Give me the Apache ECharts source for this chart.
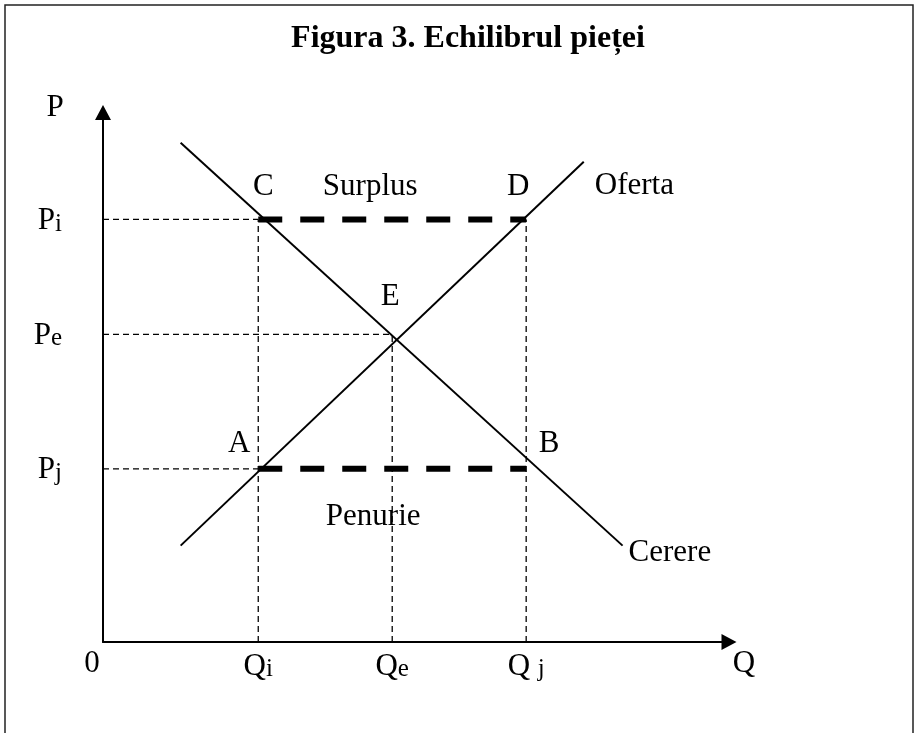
<!DOCTYPE html>
<html>
<head>
<meta charset="utf-8">
<script src="https://cdn.jsdelivr.net/npm/echarts@6/dist/echarts.min.js"></script>
<style>
html,body{margin:0;padding:0;background:#fff;}
#chart{width:918px;height:733px;}
</style>
</head>
<body>
<div id="chart"></div>
<script>
// ---- data (axis range 0..100) ----
const quantityNames = ['Qi', 'Qe', 'Qj'];
const quantityValues = [24.8, 46.2, 67.6];
const priceNames = ['Pj', 'Pe', 'Pi'];
const priceValues = [32.7, 58.1, 79.8];
const demandCurve = [[12.4, 94.3], [83.0, 18.2]];   // Cerere
const supplyCurve = [[12.4, 18.2], [76.8, 90.7]];   // Oferta
const curveNames = ['Cerere', 'Oferta'];
const pointNames = ['C', 'D', 'E', 'A', 'B'];
const regionNames = ['Surplus', 'Penurie'];
const titleText = 'Figura 3. Echilibrul pieței';
const axisNames = ['P', 'Q', '0'];

const Qi = quantityValues[0], Qe = quantityValues[1], Qj = quantityValues[2];
const Pj = priceValues[0], Pe = priceValues[1], Pi = priceValues[2];

const FONT = '"Liberation Serif","Times New Roman",serif';
const BLACK = '#000';

// points named in pointNames order
const pointCoords = [[Qi, Pi], [Qj, Pi], [Qe, Pe], [Qi, Pj], [Qj, Pj]];
const pointLabelOffset = { C: [5, -33], D: [-8, -33], E: [-2, -38], A: [-19, -25], B: [23, -25] };

// thin dashed guide segments
const guideSegments = [
  [[0, Pi], [Qi, Pi]],
  [[0, Pe], [Qe, Pe]],
  [[0, Pj], [Qi, Pj]],
  [[Qi, 0], [Qi, Pi]],
  [[Qe, 0], [Qe, Pe]],
  [[Qj, 0], [Qj, Pi]]
];
// bold dashed gaps (surplus, shortage)
const gapSegments = [
  [[Qi, Pi], [Qj, Pi]],
  [[Qi, Pj], [Qj, Pj]]
];
const regionLabelOffset = [[-22, -33], [-19, 48]];

const subRich = {
  m: { fontFamily: FONT, fontSize: 31, color: BLACK, lineHeight: 34, verticalAlign: 'bottom' },
  s: { fontFamily: FONT, fontSize: 25, color: BLACK, lineHeight: 34, verticalAlign: 'bottom' }
};
function subLabel(name) {
  const head = name.charAt(0), tail = name.slice(1);
  const sep = tail === 'j' && head === 'Q' ? ' ' : '';
  return '{m|' + head + sep + '}{s|' + tail + '}';
}

const labelStyle = { fontFamily: FONT, fontSize: 31, color: BLACK, opacity: 1 };

const series = [];
guideSegments.forEach(function (seg) {
  series.push({
    type: 'line', data: seg, symbol: 'none', silent: true, z: 2,
    lineStyle: { color: BLACK, width: 1.3, type: [6, 4] }
  });
});
gapSegments.forEach(function (seg, i) {
  const mid = [(seg[0][0] + seg[1][0]) / 2, seg[0][1]];
  series.push({
    type: 'line', data: seg, symbol: 'none', silent: true, z: 3,
    lineStyle: { color: BLACK, width: 6, type: [24, 18], cap: 'butt' }
  });
  series.push({
    type: 'scatter', symbolSize: 0, silent: true, z: 5,
    itemStyle: { opacity: 1 },
    data: [{ value: mid, name: regionNames[i] }],
    label: Object.assign({ show: true, position: 'inside', offset: regionLabelOffset[i], formatter: '{b}' }, labelStyle)
  });
});
series.push({
  type: 'line', name: curveNames[0], data: demandCurve, symbol: 'none', z: 4,
  lineStyle: { color: BLACK, width: 2 },
  endLabel: Object.assign({ show: true, formatter: curveNames[0],
    align: 'left', verticalAlign: 'middle', offset: [1, 7], distance: 5 }, labelStyle)
});
series.push({
  type: 'line', name: curveNames[1], data: supplyCurve, symbol: 'none', z: 4,
  lineStyle: { color: BLACK, width: 2 },
  endLabel: Object.assign({ show: true, formatter: curveNames[1],
    align: 'left', verticalAlign: 'middle', offset: [6, 24], distance: 5 }, labelStyle)
});
series.push({
  type: 'scatter', symbolSize: 0, silent: true, z: 5,
  itemStyle: { opacity: 1 },
  data: pointNames.map(function (n, i) {
    return { value: pointCoords[i], name: n, label: { offset: pointLabelOffset[n] } };
  }),
  label: Object.assign({ show: true, position: 'inside', formatter: '{b}' }, labelStyle)
});

const chart = echarts.init(document.getElementById('chart'), null, { renderer: 'canvas' });
chart.setOption({
  animation: false,
  backgroundColor: '#fff',
  grid: { left: 103, top: 112.5, width: 626, height: 529.5, containLabel: false },
  xAxis: {
    type: 'value', min: 0, max: 100,
    axisLine: { show: true, onZero: false, symbol: ['none', 'triangle'], symbolSize: [16, 15],
      lineStyle: { color: BLACK, width: 2 } },
    axisTick: { show: false },
    splitLine: { show: false },
    axisLabel: {
      customValues: quantityValues, margin: 6,
      formatter: function (v) { return subLabel(quantityNames[quantityValues.indexOf(v)]); },
      rich: subRich
    }
  },
  yAxis: {
    type: 'value', min: 0, max: 100,
    axisLine: { show: true, onZero: false, symbol: ['none', 'triangle'], symbolSize: [16, 15],
      lineStyle: { color: BLACK, width: 2 } },
    axisTick: { show: false },
    splitLine: { show: false },
    axisLabel: {
      customValues: priceValues, margin: 41,
      formatter: function (v) { return subLabel(priceNames[priceValues.indexOf(v)]); },
      rich: subRich
    }
  },
  graphic: [
    { type: 'rect', shape: { x: 5, y: 5, width: 908, height: 760 }, silent: true,
      style: { fill: 'none', stroke: '#222', lineWidth: 1.5 } },
    { type: 'text', x: 468, y: 39, silent: true,
      style: { text: titleText, fontFamily: FONT, fontWeight: 'bold', fontSize: 32, fill: BLACK,
        align: 'center', verticalAlign: 'middle' } },
    { type: 'text', x: 55, y: 108, silent: true,
      style: { text: axisNames[0], fontFamily: FONT, fontSize: 31, fill: BLACK, align: 'center', verticalAlign: 'middle' } },
    { type: 'text', x: 744, y: 664, silent: true,
      style: { text: axisNames[1], fontFamily: FONT, fontSize: 31, fill: BLACK, align: 'center', verticalAlign: 'middle' } },
    { type: 'text', x: 92, y: 664, silent: true,
      style: { text: axisNames[2], fontFamily: FONT, fontSize: 31, fill: BLACK, align: 'center', verticalAlign: 'middle' } }
  ],
  series: series
});
</script>
</body>
</html>
